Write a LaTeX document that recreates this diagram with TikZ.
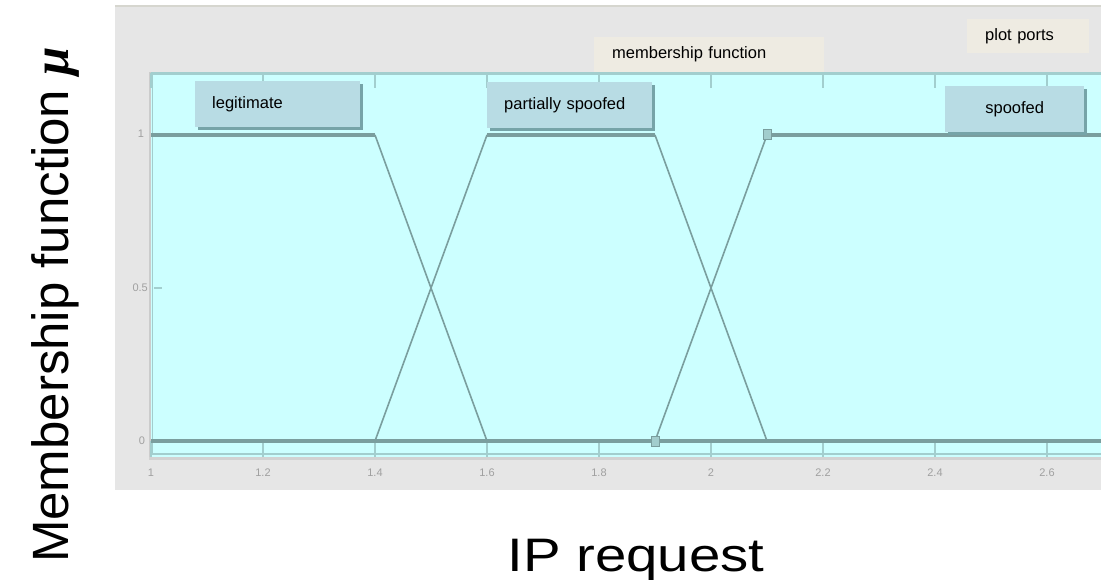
\documentclass[tikz,border=0pt]{standalone}
\usepackage{fontspec}
\usepackage{amsmath}
\usepackage{amssymb}
\usepackage{xcolor}
\setmainfont{Liberation Sans}
\newfontfamily\muserif{Liberation Serif}
\usetikzlibrary{positioning, shadows}

\definecolor{panelgray}{HTML}{E6E6E6}
\definecolor{panelline}{HTML}{D6D6CF}
\definecolor{plotbg}{HTML}{CCFFFF}
\definecolor{mfline}{HTML}{7A9E9E}
\definecolor{mfshade}{HTML}{A6D2D2}
\definecolor{tickteal}{HTML}{A2CECE}
\definecolor{tagfill}{HTML}{B8DCE4}
\definecolor{tagshadow}{HTML}{76A4A8}
\definecolor{menufill}{HTML}{EEEBE2}
\definecolor{ticktext}{HTML}{A0A0A0}

\tikzset{
  mftag/.style={rectangle, fill=tagfill, anchor=north west, minimum height=46pt, inner xsep=17pt,
    font=\fontsize{16.5}{18}\selectfont,
    drop shadow={shadow xshift=3pt, shadow yshift=-3pt, fill=tagshadow, opacity=1}},
  menutag/.style={rectangle, fill=menufill, anchor=north west, inner xsep=18pt, align=left,
    font=\fontsize{16.5}{18}\selectfont},
  ticklab/.style={text=ticktext, font=\fontsize{11}{12}\selectfont, inner sep=0pt},
  mfslope/.style={mfline, line width=1.6pt},
  mfflat/.style={mfline, line width=3.2pt},
  mfflatshade/.style={mfshade, line width=2.5pt, yshift=-2.5pt},
  selpoint/.style={rectangle, draw=mfline, fill=mfshade!90!mfline, line width=1pt, minimum width=8pt, minimum height=10pt, inner sep=0pt}
}

\begin{document}
\begin{tikzpicture}[x=1pt, y=-1pt]
    \useasboundingbox[fill=white] (0,0) rectangle (1101,580);
    \fill[panelgray] (115,5) rectangle (1101,490);
    \draw[panelline, line width=2.5pt] (115,6) -- (1101,6);

    \fill[plotbg] (151,72) rectangle (1101,458);
    \draw[tickteal, line width=2.5pt] (151,73.5) -- (1101,73.5);
    \draw[gray!40, line width=2pt] (150,72) -- (150,460);
    \draw[tickteal, line width=1.5pt] (152.5,75) -- (152.5,455);
    \draw[tickteal, line width=2pt] (151,454) -- (1101,454);
    \draw[gray!35, line width=3pt] (149,458.5) -- (1101,458.5);

    \foreach \xv/\lab in {151/1, 263/1.2, 375/1.4, 487/1.6, 599/1.8, 711/2, 823/2.2, 935/2.4, 1047/2.6} {
        \draw[tickteal, line width=1.5pt] (\xv,441) -- (\xv,457);
        \draw[tickteal, line width=1.5pt] (\xv,73) -- (\xv,88);
        \node[ticklab] (xt\xv) at (\xv,473) {\lab};
    }
    \node[ticklab] (yt1) at (141,134) {1};
    \node[ticklab, anchor=east] (yt05) at (148,288) {0.5};
    \node[ticklab] (yt0) at (142,441) {0};
    \draw[tickteal, line width=1.5pt] (yt05.east) ++(6,0) -- ++(8,0);

    \begin{scope}[shift={(-409,441)}, x=560pt, y=306pt]
        \coordinate (a0) at (1,0);
        \coordinate (a1) at (1,1);
        \coordinate (b1) at (1.4,1);
        \coordinate (b0) at (1.4,0);
        \coordinate (c1) at (1.6,1);
        \coordinate (c0) at (1.6,0);
        \coordinate (d1) at (1.9,1);
        \coordinate (d0) at (1.9,0);
        \coordinate (e1) at (2.1,1);
        \coordinate (e0) at (2.1,0);
        \coordinate (z1) at (2.7,1);
        \coordinate (z0) at (2.7,0);

        \draw[mfflatshade] (a0) -- (z0)
            (a1) -- (b1)
            (c1) -- (d1)
            (e1) -- (z1);
        \draw[mfflat] (a0) -- (z0)
            (a1) -- (b1)
            (c1) -- (d1)
            (e1) -- (z1);
        \draw[mfslope] (b1) -- (c0)
            (b0) -- (c1)
            (d1) -- (e0)
            (d0) -- (e1);

        \node[selpoint] (sel0) at (d0) {};
        \node[selpoint] (sel1) at (e1) {};
    \end{scope}

    \node[mftag, minimum width=165pt, text width=131pt, align=left] (legit) at (195,81) {legitimate};
    \node[mftag, minimum width=165pt, text width=131pt, align=left] (partial) at (487,82) {partially spoofed};
    \node[mftag, minimum width=139pt, text width=105pt, align=center] (spoofed) at (945,86) {spoofed};

    \node[menutag, minimum width=230pt, minimum height=35pt, text width=194pt] (mfmenu) at (594,37) {membership function};
    \node[menutag, minimum width=122pt, minimum height=34pt, text width=86pt] (plotpts) at (967,19) {plot ports};

    \node[anchor=base, font=\fontsize{47}{50}\selectfont, xscale=1.2] (xlabel) at (636,571) {IP request};
    \node[anchor=base, rotate=90, font=\fontsize{51}{54}\selectfont] (ylabel) at (68,305) {Membership function {\muserif\bfseries\itshape μ}};
\end{tikzpicture}
\end{document}
